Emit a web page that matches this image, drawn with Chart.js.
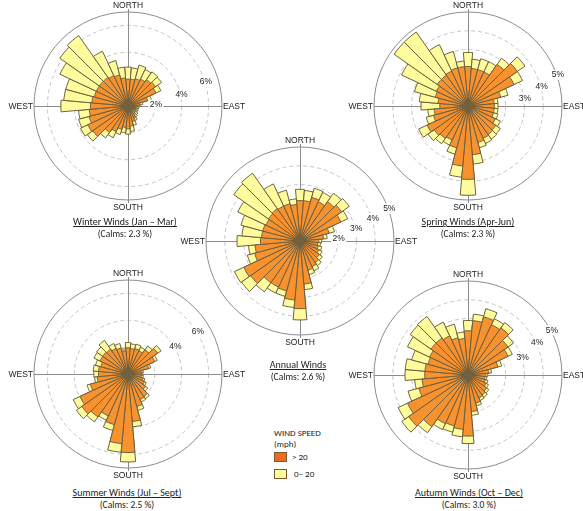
<!DOCTYPE html>
<html lang="en">
<head>
  <meta charset="UTF-8">
  <title>Wind Roses</title>
  <script src="https://cdn.jsdelivr.net/npm/chart.js"></script>
  <style>
    body { margin: 0; background: #fff; font-family: Carlito, Calibri, Lato, sans-serif; color: #222; }
    #page { position: relative; width: 583px; height: 511px; overflow: hidden; }
    canvas { position: absolute; }
    .title { position: absolute; width: 200px; margin-left: -100px; text-align: center; font-size: 10px; line-height: 12px; }
    .title u { text-decoration: underline; }
    .title span { font-size: 9.5px; }
    #legend { position: absolute; left: 274px; top: 427px; font-size: 9px; line-height: 11px; color: #222; }
    #legend .row { position: relative; height: 17px; }
    #legend .box { position: absolute; left: 0; top: 1px; width: 11px; height: 8px; border: 1px solid #7a5a2e; }
  </style>
</head>
<body>
<div id="page">
  <canvas id="winter" width="260" height="212" style="left:-2px;top:0px"></canvas>
  <canvas id="spring" width="260" height="212" style="left:338px;top:0px"></canvas>
  <canvas id="summer" width="260" height="212" style="left:-2px;top:268px"></canvas>
  <canvas id="autumn" width="260" height="212" style="left:338px;top:269px"></canvas>
  <canvas id="annual" width="260" height="212" style="left:170px;top:135px"></canvas>

  <div class="title" style="left:125px;top:216px"><u>Winter Winds (Jan – Mar)</u><br><span>(Calms: 2.3 %)</span></div>
  <div class="title" style="left:468px;top:216px"><u>Spring Winds (Apr-Jun)</u><br><span>(Calms: 2.3 %)</span></div>
  <div class="title" style="left:298px;top:359px"><u>Annual Winds</u><br><span>(Calms: 2.6 %)</span></div>
  <div class="title" style="left:127px;top:487px"><u>Summer Winds (Jul – Sept)</u><br><span>(Calms: 2.5 %)</span></div>
  <div class="title" style="left:469px;top:487px"><u>Autumn Winds (Oct – Dec)</u><br><span>(Calms: 3.0 %)</span></div>

  <div id="legend">
    <div>WIND SPEED</div>
    <div style="margin-bottom:2px">(mph)</div>
    <div class="row"><div class="box" style="background:#f26c1f"></div><span style="margin-left:18px">&gt; 20</span></div>
    <div class="row"><div class="box" style="background:#fefd9c"></div><span style="margin-left:20px">0– 20</span></div>
  </div>
</div>

<script>
  // 36 directions, 10 degrees apart, clockwise from north
  const directions = ['0°','10°','20°','30°','40°','50°','60°','70°','80°','90°','100°','110°',
    '120°','130°','140°','150°','160°','170°','180°','190°','200°','210°','220°','230°',
    '240°','250°','260°','270°','280°','290°','300°','310°','320°','330°','340°','350°'];

  // frequency in % : speeds > 20 mph and 0-20 mph
  const winterHigh = [2.0,2.0,2.1,2.2,2.4,2.5,2.3,1.5,0.9,0.7,0.6,0.6,0.6,0.7,0.8,1.0,1.2,1.5,
    1.7,1.6,1.8,2.1,2.4,3.2,3.3,3.0,2.9,2.8,2.7,2.6,2.6,2.6,2.6,2.5,2.4,2.1];
  const winterLow = [0.9,0.85,1.05,0.8,0.7,0.55,0.4,0.3,0.2,0.2,0.2,0.2,0.2,0.2,0.2,0.2,0.3,0.4,
    0.4,0.4,0.4,0.5,0.5,0.5,0.6,0.8,0.8,2.2,2.1,2.2,3.0,3.6,3.8,2.0,1.1,0.8];

  const springHigh = [2.1,2.0,2.0,2.0,2.7,3.2,2.7,1.8,1.4,1.4,1.4,1.4,1.6,1.8,1.85,1.9,2.0,2.6,
    3.9,3.2,2.3,2.0,2.1,2.2,2.4,1.9,1.8,1.5,1.6,1.8,1.85,2.0,2.0,2.05,2.1,2.1];
  const springLow = [0.75,0.5,0.6,0.6,0.4,0.5,0.5,0.4,0.2,0.2,0.2,0.25,0.3,0.3,0.3,0.3,0.3,0.5,
    0.85,0.6,0.35,0.3,0.35,0.4,0.5,0.4,0.35,1.0,1.0,1.15,2.05,2.8,2.8,1.55,0.9,0.3];

  const annualHigh = [2.15,2.15,2.4,2.3,2.55,2.7,2.4,1.6,1.25,1.0,0.95,1.0,1.1,1.25,1.4,1.5,1.6,2.3,
    3.6,3.15,2.75,2.7,2.7,3.2,3.3,2.5,2.4,2.1,2.05,2.05,2.0,2.05,2.1,2.05,2.05,1.95];
  const annualLow = [0.6,0.55,0.5,0.55,0.55,0.5,0.4,0.3,0.2,0.15,0.15,0.2,0.2,0.2,0.2,0.25,0.25,0.3,
    0.6,0.4,0.3,0.35,0.6,0.6,0.55,0.4,0.35,1.25,1.05,1.2,1.65,2.25,2.3,1.3,0.75,0.3];

  const summerHigh = [1.95,1.9,1.95,1.9,2.2,2.7,2.2,1.6,1.0,1.0,1.0,1.15,1.35,1.6,2.05,2.1,2.5,3.55,
    5.85,5.2,3.9,3.45,3.9,4.2,3.95,2.9,2.3,2.2,2.2,2.1,2.3,2.3,2.25,2.1,2.0,1.75];
  const summerLow = [0.4,0.35,0.35,0.3,0.35,0.3,0.2,0.15,0.15,0.1,0.15,0.15,0.15,0.2,0.2,0.2,0.3,0.4,
    0.7,0.65,0.45,0.35,0.45,0.5,0.55,0.25,0.2,0.35,0.4,0.4,0.5,0.55,0.8,0.4,0.35,0.15];

  const autumnHigh = [2.35,2.9,3.2,2.95,3.05,2.6,2.35,1.65,1.1,0.95,0.9,0.95,1.05,1.2,1.3,1.35,1.55,1.95,
    3.25,2.9,2.8,2.85,3.35,3.85,3.55,2.7,2.45,2.3,2.3,2.2,2.25,2.4,2.4,2.3,2.05,1.95];
  const autumnLow = [0.55,0.35,0.45,0.35,0.35,0.35,0.25,0.2,0.15,0.1,0.1,0.15,0.15,0.15,0.15,0.15,0.15,0.2,
    0.4,0.4,0.35,0.35,0.4,0.45,0.55,0.6,0.4,1.05,1.05,0.9,1.3,1.35,1.4,0.8,0.75,0.35];

  // ring labels (%) per chart
  const winterRings = [2, 4, 6];
  const springRings = [3, 4, 5];
  const annualRings = [2, 3, 4, 5];
  const summerRings = [4, 6];
  const autumnRings = [3, 4, 5];

  const ORANGE = '#f7922f';
  const YELLOW = '#fefc9c';
  const EDGE = '#6f5f3e';
  const LABEL_FONT = "8.5px 'Liberation Sans Narrow', 'Liberation Sans', Arial, sans-serif";

  // compass axes, direction names and ring percentages
  const compass = {
    id: 'compass',
    beforeDatasetsDraw(chart) {
      const s = chart.scales.r;
      const cx = s.xCenter, cy = s.yCenter, R = s.drawingArea;
      const ctx = chart.ctx;
      ctx.save();
      ctx.strokeStyle = '#8c8c8c';
      ctx.lineWidth = 1;
      ctx.beginPath();
      ctx.moveTo(cx - R, cy + 0.5); ctx.lineTo(cx + R, cy + 0.5);
      ctx.moveTo(cx + 0.5, cy - R - 3); ctx.lineTo(cx + 0.5, cy + R + 3);
      ctx.stroke();
      ctx.fillStyle = '#222';
      ctx.font = LABEL_FONT;
      ctx.textBaseline = 'middle';
      ctx.textAlign = 'center';
      ctx.fillText('NORTH', cx, cy - R - 6);
      ctx.fillText('SOUTH', cx, cy + R + 8);
      ctx.textAlign = 'right';
      ctx.fillText('WEST', cx - R - 1, cy + 0.5);
      ctx.textAlign = 'left';
      ctx.fillText('EAST', cx + R + 1, cy + 0.5);
      ctx.restore();
    },
    afterDatasetsDraw(chart, args, opts) {
      const s = chart.scales.r;
      const ctx = chart.ctx;
      ctx.save();
      ctx.font = LABEL_FONT;
      ctx.textAlign = 'center';
      ctx.textBaseline = 'middle';
      opts.rings.forEach((v, i) => {
        const r = s.getDistanceFromCenterForValue(v) + 1;
        const a = opts.angles[i] * Math.PI / 180;
        const x = s.xCenter + r * Math.cos(a);
        const y = s.yCenter - r * Math.sin(a);
        const text = v + '%';
        const w = ctx.measureText(text).width;
        ctx.fillStyle = '#fff';
        ctx.fillRect(x - w / 2 - 1.5, y - 5, w + 3, 10);
        ctx.fillStyle = '#222';
        ctx.fillText(text, x, y);
      });
      ctx.restore();
    }
  };

  function rose(id, high, low, max, step, rings, angles) {
    const total = high.map((v, i) => +(v + low[i]).toFixed(2));
    new Chart(document.getElementById(id), {
      type: 'polarArea',
      data: {
        labels: directions,
        datasets: [
          { label: '> 20', data: high, backgroundColor: ORANGE, borderColor: EDGE, borderWidth: 1 },
          { label: '0– 20', data: total, backgroundColor: YELLOW, borderColor: EDGE, borderWidth: 1 }
        ]
      },
      options: {
        responsive: false,
        animation: false,
        events: [],
        layout: { padding: { left: 36, right: 36, top: 12, bottom: 12 } },
        plugins: {
          legend: { display: false },
          tooltip: { enabled: false },
          compass: { rings: rings, angles: angles }
        },
        scales: {
          r: {
            min: 0,
            max: max,
            startAngle: -5,
            ticks: { display: false, stepSize: step },
            angleLines: { display: false },
            pointLabels: { display: false },
            grid: {
              lineWidth: 1,
              color: c => c.tick.value >= max ? '#8c8c8c' : '#c4c4c4'
            },
            border: { dash: c => c.tick.value >= max ? [] : [4, 3] }
          }
        }
      },
      plugins: [compass]
    });
  }

  rose('winter', winterHigh, winterLow, 7, 2, winterRings, [3, 12, 17]);
  rose('spring', springHigh, springLow, 5, 1, springRings, [7, 15, 19]);
  rose('annual', annualHigh, annualLow, 5, 1, annualRings, [3, 12, 17, 20]);
  rose('summer', summerHigh, summerLow, 7, 2, summerRings, [30, 31]);
  rose('autumn', autumnHigh, autumnLow, 5, 1, autumnRings, [18, 25, 28]);
</script>
</body>
</html>
